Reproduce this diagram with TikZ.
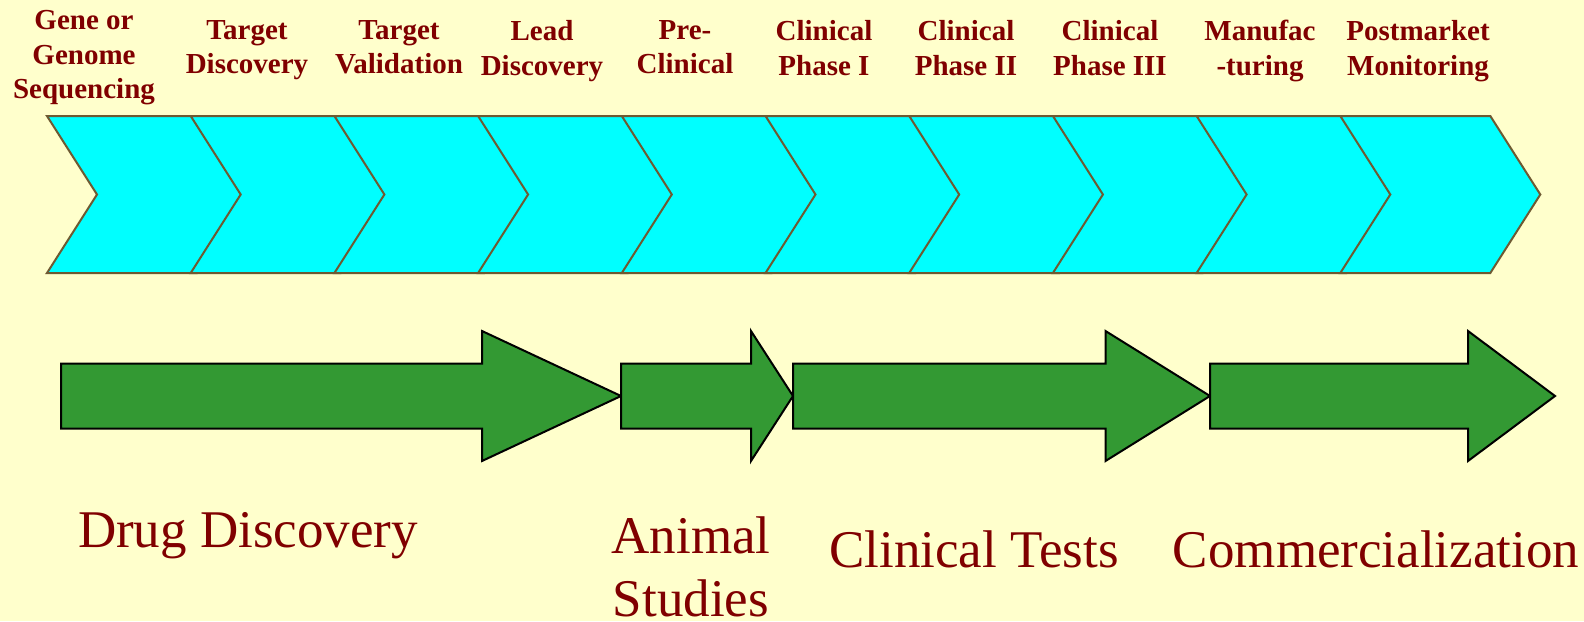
\documentclass[tikz,border=0pt]{standalone}
\usepackage{fontspec}
\setmainfont{Liberation Serif}
\usepackage{tikz}
\usetikzlibrary{positioning}
\definecolor{paper}{RGB}{255,255,204}
\definecolor{aqua}{RGB}{0,255,255}
\definecolor{olive}{RGB}{110,90,50}
\definecolor{leaf}{RGB}{51,153,51}
\definecolor{maroon}{RGB}{128,0,0}
\tikzset{
  chevron/.style={fill=aqua,draw=olive,line width=1pt,line join=miter},
  blockarrow/.style={fill=leaf,draw=black,line width=1pt,line join=miter},
  steplabel/.style={anchor=north,inner sep=0pt,align=center,text=maroon,
    font=\fontsize{14.5}{17.25}\selectfont\bfseries},
  phaselabel/.style={anchor=north,inner sep=0pt,align=center,text=maroon,
    font=\fontsize{26.5}{31.5}\selectfont}
}
\newcommand{\greenarrow}[3]{%
  \path[blockarrow] (#1,363.5) -- (#2,363.5) -- (#2,331) -- (#3,396)
    -- (#2,461) -- (#2,428.5) -- (#1,428.5) -- cycle;}

\begin{document}
\begin{tikzpicture}[x=0.5pt,y=-0.5pt]
  \fill[paper] (0,0) rectangle (1584,621);
  \useasboundingbox (0,0) rectangle (1584,621);
  \foreach \i in {0,...,9}{
    \pgfmathsetmacro{\cx}{47+143.7*\i}
    \path[chevron] (\cx,116) -- ++(150,0) -- ++(50,78.5) -- ++(-50,78.5)
      -- ++(-150,0) -- ++(50,-78.5) -- cycle;
  }
  \node[steplabel] (gene) at (84,10) {Gene or\\Genome\\Sequencing};
  \node[steplabel] (tdisc) at (247,20) {Target\\Discovery};
  \node[steplabel] (tval) at (399,20) {Target\\Validation};
  \node[steplabel] (lead) at (542,20) {Lead\\Discovery};
  \node[steplabel] (precl) at (685,20) {Pre-\\Clinical};
  \node[steplabel] (ph1) at (824,20) {Clinical\\Phase I};
  \node[steplabel] (ph2) at (966,20) {Clinical\\Phase II};
  \node[steplabel] (ph3) at (1110,20) {Clinical\\Phase III};
  \node[steplabel] (manuf) at (1260,20) {Manufac\\-turing};
  \node[steplabel] (postm) at (1418,20) {Postmarket\\Monitoring};
  \greenarrow{61}{482}{621}
  \greenarrow{621}{751}{793}
  \greenarrow{793}{1105.5}{1210}
  \greenarrow{1210}{1468}{1555}
  \node[phaselabel] (drug) at (248,512) {Drug Discovery};
  \node[phaselabel] (animal) at (691,516) {Animal\\Studies};
  \node[phaselabel] (clin) at (974,530) {Clinical Tests};
  \node[phaselabel] (comm) at (1376,530) {Commercialization};
\end{tikzpicture}
\end{document}
